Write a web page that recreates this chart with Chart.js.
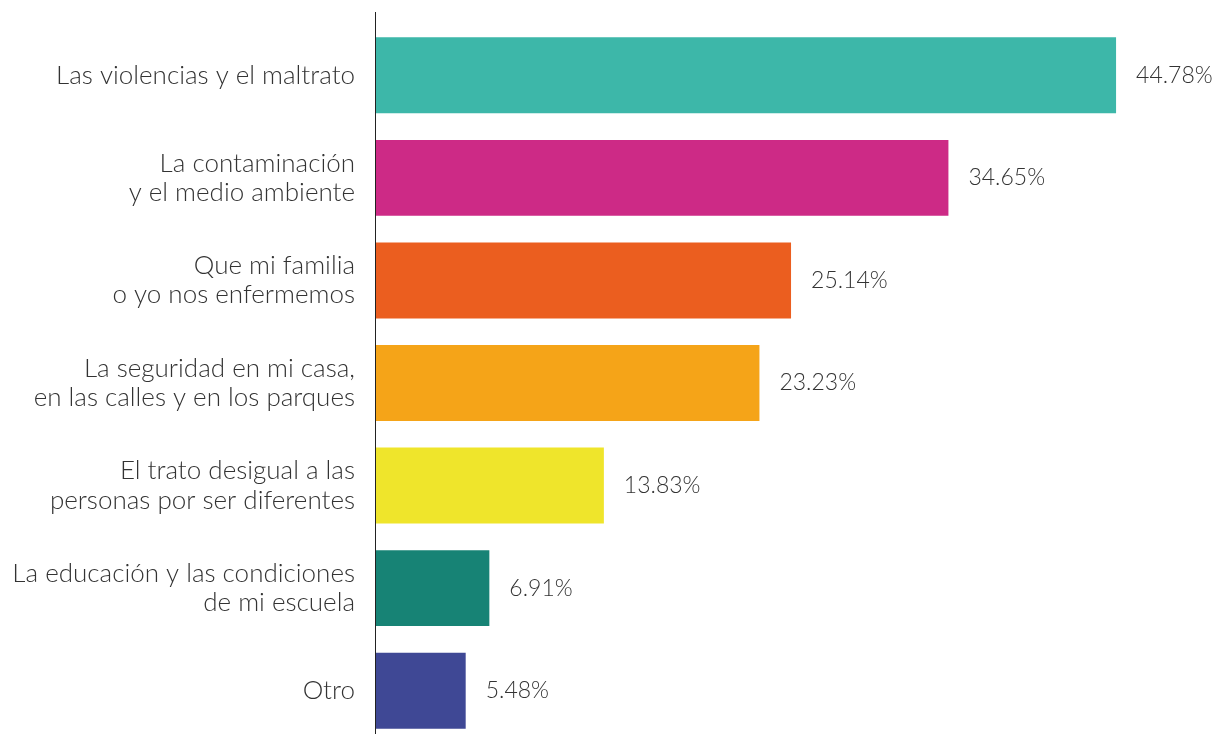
<!DOCTYPE html>
<html>
<head>
<meta charset="utf-8">
<script src="https://cdn.jsdelivr.net/npm/chart.js@4"></script>
<style>
    html, body { margin: 0; padding: 0; background: #fff; overflow: hidden; }
    #wrap { width: 1220px; height: 742px; }
</style>
</head>
<body>
<div id="wrap"><canvas id="chart" width="1220" height="742"></canvas></div>
<script>
// categories (multi-line labels as arrays)
const categories = [
    ["Las violencias y el maltrato"],
    ["La contaminación", "y el medio ambiente"],
    ["Que mi familia", "o yo nos enfermemos"],
    ["La seguridad en mi casa,", "en las calles y en los parques"],
    ["El trato desigual a las", "personas por ser diferentes"],
    ["La educación y las condiciones", "de mi escuela"],
    ["Otro"]
];
const percentages = [44.78, 34.65, 25.14, 23.23, 13.83, 6.91, 5.48];
const barColors = ["#3db7a9", "#cd2a86", "#eb5e1f", "#f5a418", "#efe52b", "#178375", "#3f4895"];

const textColor = "#333333";
const labelFont = { family: "Lato, 'Open Sans', sans-serif", size: 26, weight: "300", lineHeight: 1.12 };

// value labels at the end of each bar
const valueLabels = {
    id: "valueLabels",
    afterDatasetsDraw(chart) {
        const ctx = chart.ctx;
        const meta = chart.getDatasetMeta(0);
        ctx.save();
        ctx.fillStyle = textColor;
        ctx.font = "300 23px Lato, 'Open Sans', sans-serif";
        ctx.textAlign = "left";
        ctx.textBaseline = "middle";
        meta.data.forEach((bar, i) => {
            ctx.fillText(percentages[i].toFixed(2) + "%", bar.x + 20, bar.y);
        });
        ctx.restore();
    }
};

// vertical axis line, a bit taller than the plot area
const axisLine = {
    id: "axisLine",
    afterDraw(chart) {
        const ctx = chart.ctx;
        const area = chart.chartArea;
        ctx.save();
        ctx.strokeStyle = "#222";
        ctx.lineWidth = 1;
        ctx.beginPath();
        ctx.moveTo(area.left + 0.5, area.top - 12);
        ctx.lineTo(area.left + 0.5, area.bottom);
        ctx.stroke();
        ctx.restore();
    }
};

new Chart(document.getElementById("chart"), {
    type: "bar",
    data: {
        labels: categories,
        datasets: [{
            data: percentages,
            backgroundColor: barColors,
            borderWidth: 0,
            categoryPercentage: 1,
            barPercentage: 0.74
        }]
    },
    options: {
        indexAxis: "y",
        responsive: false,
        animation: false,
        layout: { padding: { top: 24, right: 1, bottom: 0, left: 0 } },
        plugins: {
            legend: { display: false },
            tooltip: { enabled: false }
        },
        scales: {
            x: {
                display: false,
                min: 0,
                max: 51
            },
            y: {
                grid: { display: false, drawTicks: false },
                border: { display: false },
                ticks: {
                    color: textColor,
                    font: labelFont,
                    padding: 20
                },
                afterFit(scale) {
                    scale.width = 375;
                    scale.paddingTop = 0;
                    scale.paddingBottom = 0;
                }
            }
        }
    },
    plugins: [valueLabels, axisLine]
});
</script>
</body>
</html>
